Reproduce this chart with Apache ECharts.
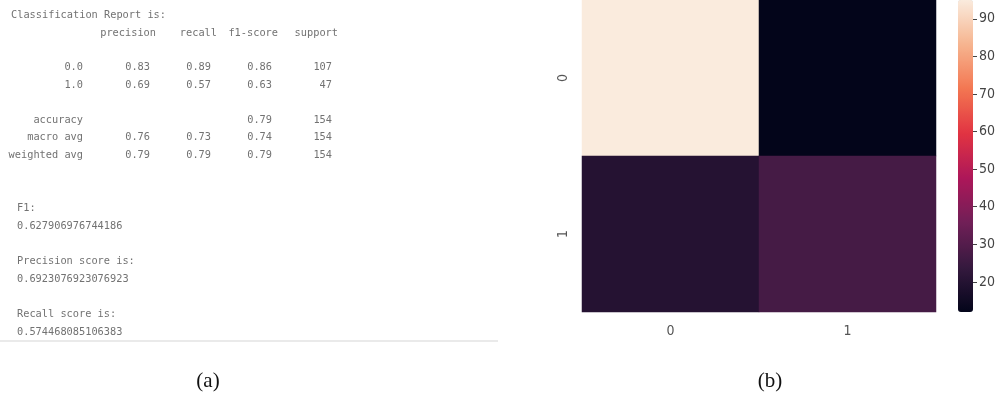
<!DOCTYPE html>
<html>
<head>
<meta charset="utf-8">
<script src="https://cdn.jsdelivr.net/npm/echarts@6/dist/echarts.min.js"></script>
<style>
  html, body { margin: 0; padding: 0; background: #fff; }
  #chart { width: 1002px; height: 394px; }
</style>
</head>
<body>
<div id="chart"></div>
<script>
// Classification report (panel a)
const reportTitle = 'Classification Report is:';
const reportHeaders = ['precision', 'recall', 'f1-score', 'support'];
const reportRowNames = ['0.0', '1.0', 'accuracy', 'macro avg', 'weighted avg'];
const reportPrecision = ['0.83', '0.69', '', '0.76', '0.79'];
const reportRecall = ['0.89', '0.57', '', '0.73', '0.79'];
const reportF1 = ['0.86', '0.63', '0.79', '0.74', '0.79'];
const reportSupport = ['107', '47', '154', '154', '154'];
const scoreLines = [
  ['F1:', '0.627906976744186'],
  ['Precision score is:', '0.6923076923076923'],
  ['Recall score is:', '0.574468085106383']
];

// Confusion matrix (panel b)
const classLabels = ['0', '1'];
const confusion = [
  [95, 12],
  [20, 27]
];
const colorbarTicks = [20, 30, 40, 50, 60, 70, 80, 90];
const colorMin = 12;
const colorMax = 95;
const captions = ['(a)', '(b)'];

// seaborn "rocket" colormap stops
const rocket = ['#03051a', '#35193e', '#701f57', '#ad1759', '#e13342', '#f37651', '#f6b48f', '#faebdd'];

const heatData = [];
confusion.forEach((row, r) => row.forEach((v, c) => heatData.push([c, r, v])));

const mono = '"DejaVu Sans Mono", "Liberation Mono", monospace';
const textColor = '#727272';
const graphics = [];
function addText(x, y, text, align) {
  graphics.push({
    type: 'text', x: x, y: y,
    style: { text: text, fill: textColor, font: '10.3px ' + mono, textAlign: align || 'left', textVerticalAlign: 'middle' },
    silent: true
  });
}

addText(11, 15, reportTitle);
const headerRight = [156, 217, 278, 338];
const valueRight = [150, 211, 272, 332];
reportHeaders.forEach((h, i) => addText(headerRight[i], 33, h, 'right'));
const rowY = [67.5, 85, 120, 137.5, 155.5];
const cols = [reportPrecision, reportRecall, reportF1, reportSupport];
reportRowNames.forEach((name, r) => {
  addText(83, rowY[r], name, 'right');
  cols.forEach((col, c) => { if (col[r]) addText(valueRight[c], rowY[r], col[r], 'right'); });
});
const scoreY = [[208.5, 226.5], [261, 279], [314, 332.5]];
scoreLines.forEach((pair, i) => {
  addText(17, scoreY[i][0], pair[0]);
  addText(17, scoreY[i][1], pair[1]);
});
graphics.push({
  type: 'line', shape: { x1: 0, y1: 341, x2: 498, y2: 341 },
  style: { stroke: '#e3e3e3', lineWidth: 1.5 }, silent: true
});
[208, 770].forEach((x, i) => {
  graphics.push({
    type: 'text', x: x, y: 381,
    style: { text: captions[i], fill: '#111', font: '21px "Liberation Serif", "DejaVu Serif", serif', textAlign: 'center', textVerticalAlign: 'middle' },
    silent: true
  });
});

const tickFont = '"DejaVu Sans Condensed", "Liberation Sans Narrow", "DejaVu Sans", sans-serif';

const chart = echarts.init(document.getElementById('chart'), null, { renderer: 'canvas' });
chart.setOption({
  animation: false,
  backgroundColor: '#ffffff',
  grid: [
    { left: 582, top: 0, width: 354, height: 312 },
    { left: 958, top: 0, width: 15, height: 312 }
  ],
  xAxis: [
    {
      gridIndex: 0, type: 'category', data: classLabels,
      axisLine: { show: false }, axisTick: { show: false }, splitLine: { show: false },
      axisLabel: { color: '#555', fontSize: 14, fontFamily: tickFont, margin: 12 }
    },
    { gridIndex: 1, type: 'value', show: false, min: 0, max: 1 }
  ],
  yAxis: [
    {
      gridIndex: 0, type: 'category', data: classLabels, inverse: true,
      axisLine: { show: false }, axisTick: { show: false }, splitLine: { show: false },
      axisLabel: { color: '#555', fontSize: 14, fontFamily: tickFont, rotate: 90, margin: 12 }
    },
    {
      gridIndex: 1, type: 'value', position: 'right', min: colorMin, max: colorMax, z: 10,
      axisLine: { show: true, onZero: false, lineStyle: { color: 'rgba(0,0,0,0)' } }, splitLine: { show: false },
      axisTick: { show: true, length: 4, lineStyle: { color: '#444', width: 1 }, customValues: colorbarTicks },
      axisLabel: { color: '#444', fontSize: 14, fontFamily: tickFont, margin: 6, customValues: colorbarTicks }
    }
  ],
  visualMap: {
    type: 'continuous', seriesIndex: 0, min: colorMin, max: colorMax,
    left: 958, top: 0, itemWidth: 15, itemHeight: 312, padding: 0,
    calculable: false, text: null, showLabel: false, hoverLink: false,
    inRange: { color: rocket }
  },
  series: [
    {
      type: 'heatmap', xAxisIndex: 0, yAxisIndex: 0, data: heatData,
      label: { show: false }, itemStyle: { borderWidth: 0 }
    }
  ],
  graphic: graphics
});
</script>
</body>
</html>
